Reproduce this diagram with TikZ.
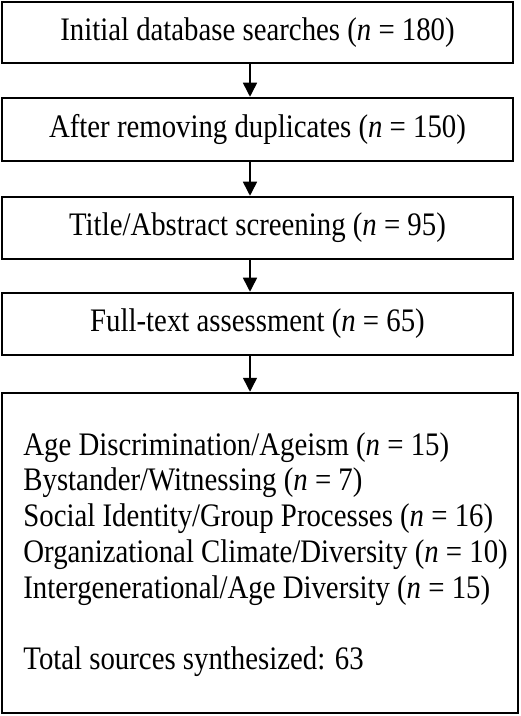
\documentclass[tikz,border=0pt]{standalone}
\usepackage{fontspec}
\setmainfont{Liberation Serif}
\usetikzlibrary{arrows.meta}
\newcommand{\tall}[1]{\scalebox{1}[1.14]{#1}}

\begin{document}
\begin{tikzpicture}[x=0.5pt,y=-0.5pt,
  font=\fontsize{14.4}{15.7}\selectfont,
  stage/.style={draw,line width=1.25pt,minimum width=255.5pt,inner sep=0pt},
  flow/.style={line width=0.75pt,-{Triangle[width=7pt,length=7pt]}}]
\useasboundingbox (0,0) rectangle (520,716);

\node[stage,minimum height=30.5pt] (search) at (257.5,32.5) {\tall{Initial database searches (\textit{n} = 180)}};
\node[stage,minimum height=31.5pt] (dedup) at (257.5,129.5) {\tall{After removing duplicates (\textit{n} = 150)}};
\node[stage,minimum height=31pt] (screen) at (257.5,228) {\tall{Title/Abstract screening (\textit{n} = 95)}};
\node[stage,minimum height=31pt] (full) at (257.5,324) {\tall{Full-text assessment (\textit{n} = 65)}};
\node[stage,minimum width=258pt,minimum height=160pt] (final) at (260,553) {};

\node[anchor=base west,inner sep=0pt] (themes) at (23,455)
  {\tall{\begin{tabular}[t]{@{}l@{}}
   Age Discrimination/Ageism (\textit{n} = 15)\\
   Bystander/Witnessing (\textit{n} = 7)\\
   Social Identity/Group Processes (\textit{n} = 16)\\
   Organizational Climate/Diversity (\textit{n} = 10)\\
   Intergenerational/Age Diversity (\textit{n} = 15)\\[15.7pt]
   Total sources synthesized: 63
  \end{tabular}}};

\coordinate (ax) at (250,0);
\foreach \a/\b in {search/dedup,dedup/screen,screen/full,full/final}
  \draw[flow] (\a.south -| ax) -- (\b.north -| ax);

\end{tikzpicture}
\end{document}
